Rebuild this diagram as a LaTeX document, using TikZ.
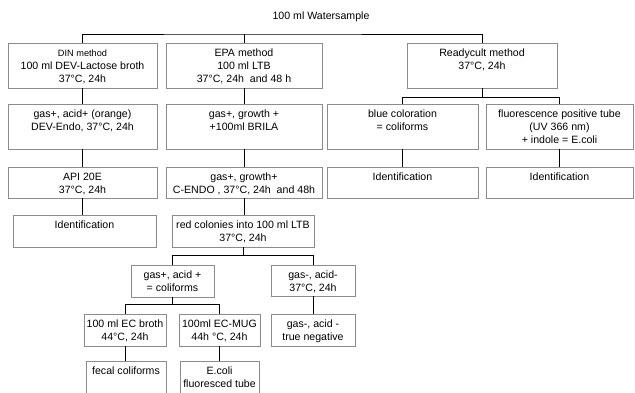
\documentclass[tikz,border=0pt]{standalone}
\usepackage{fontspec}
\setmainfont{Liberation Sans}
\definecolor{boxgray}{HTML}{8C8C8C}
\tikzset{
  box/.style={draw=boxgray, line width=0.8pt, inner sep=0pt, outer sep=0pt, anchor=north west,
    font=\fontsize{10.6}{13}\selectfont},
  conn/.style={draw=black, line width=0.9pt},
  ttl/.style={inner sep=0pt, font=\fontsize{10.6}{13}\selectfont}
}
\newcommand\bx[6]{\node[box] (#1) at (#2,#3) {\parbox[t][#5pt][t]{#4pt}{\centering\rule{0pt}{13pt}#6}};}
\begin{document}
\begin{tikzpicture}[x=1pt,y=-1pt]
\useasboundingbox (0,0) rectangle (635,392);
\node[ttl] (title) at (321,17) {100 ml Watersample};
% row 1
\bx{din1}{8}{43}{149}{45}{{\fontsize{9.2}{12}\selectfont DIN method}\\100 ml DEV-Lactose broth\\37°C, 24h}
\bx{epa1}{166}{43}{156}{45}{EPA method\\100 ml LTB\\37°C, 24h~ and 48 h}
\bx{ready}{407}{43}{150}{45}{Readycult method\\37°C, 24h}
% row 2
\bx{din2}{8}{104}{149}{45}{gas+, acid+ (orange)\\DEV-Endo, 37°C, 24h}
\bx{epa2}{166}{104}{156}{45}{gas+, growth +\\+100ml BRILA}
\bx{blue}{327}{104}{151}{45}{blue coloration\\= coliforms}
\bx{fluor}{486}{104}{147}{45}{fluorescence positive tube\\(UV 366 nm)\\+ indole = E.coli}
% row 3
\bx{api}{8}{167}{149}{31}{API 20E\\37°C, 24h}
\bx{epa3}{166}{167}{156}{31}{gas+, growth+\\C-ENDO , 37°C, 24h~ and 48h}
\bx{id1}{327}{167}{151}{31}{Identification}
\bx{id2}{486}{167}{147}{31}{Identification}
% row 4
\bx{dinid}{13}{215}{143}{32}{Identification}
\bx{red}{172}{215}{142}{32}{red colonies into 100 ml LTB\\37°C, 24h}
% row 5
\bx{gasp}{131}{265}{83}{32}{gas+, acid +\\= coliforms}
\bx{gasm}{271}{265}{84}{31}{gas-, acid-\\37°C, 24h}
% row 6
\bx{ec}{84}{314}{82}{32}{100 ml EC broth\\44°C, 24h}
\bx{mug}{179}{314}{81}{32}{100ml EC-MUG\\44h °C, 24h}
\bx{neg}{271}{314}{84}{32}{gas-, acid -\\true negative}
% row 7
\bx{fecal}{86}{361}{80}{40}{fecal coliforms}
\bx{ecoli}{180}{361}{79}{40}{E.coli\\fluoresced tube}
% connectors
\coordinate (bar) at (243.5,34);
\draw[conn] (din1.north) |- (bar) -| (ready.north);
\draw[conn] (epa1.north) -- (epa1.north |- bar);
\draw[conn] (din1.south) -- (din2.north);
\draw[conn] (din2.south) -- (api.north);
\draw[conn] (api.south) -- (api.south |- dinid.north);
\draw[conn] (epa1.south) -- (epa2.north);
\draw[conn] (epa2.south) -- (epa3.north);
\draw[conn] (epa3.south) -- (epa3.south |- red.north);
\draw[conn] (ready.south) -- ++(0,9);
\draw[conn] (blue.north) -- ++(0,-7) -| (fluor.north);
\draw[conn] (blue.south) -- (id1.north);
\draw[conn] (fluor.south) -- (id2.north);
\draw[conn] (red.south) -- ++(0,8);
\draw[conn] (gasp.north) -- ++(0,-10) -| (gasm.north);
\draw[conn] (gasp.south) -- ++(0,7);
\draw[conn] (ec.north) -- ++(0,-10) -| (mug.north);
\draw[conn] (gasm.south) -- (gasm.south |- neg.north);
\draw[conn] (ec.south) -- (ec.south |- fecal.north);
\draw[conn] (mug.south) -- (mug.south |- ecoli.north);
\end{tikzpicture}
\end{document}
